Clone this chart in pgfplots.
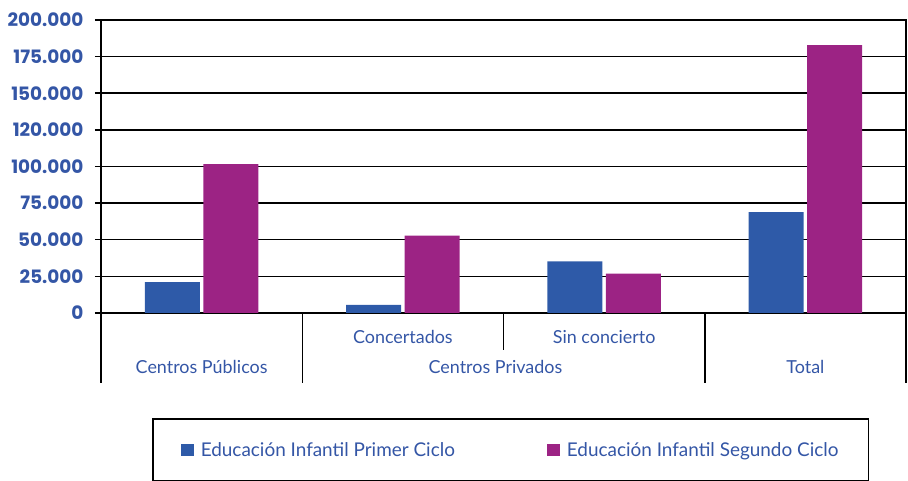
\documentclass[border=0pt]{standalone}
\usepackage{fontspec}
\setmainfont{Lato}
\newfontfamily\tickfont{Poppins}
\usepackage{pgfplots}
\pgfplotsset{compat=1.18}
\definecolor{barblue}{RGB}{46,90,168}
\definecolor{barmag}{RGB}{156,35,132}
\definecolor{txtblue}{RGB}{52,86,166}
\begin{document}
\begin{tikzpicture}
\path[use as bounding box] (0,0) rectangle (908bp,481bp);
\begin{axis}[
  ybar,
  at={(101bp,168bp)}, anchor=south west,
  scale only axis, width=805bp, height=293bp,
  xmin=-0.5, xmax=3.5, ymin=0, ymax=200000,
  xtick=\empty,
  scaled y ticks=false,
  ytick={0,25000,50000,75000,100000,125000,150000,175000,200000},
  yticklabels={0,25.000,50.000,75.000,100.000,120.000,150.000,175.000,200.000},
  yticklabel style={font=\tickfont\bfseries\fontsize{18.5}{18.5}\selectfont, text=txtblue, xshift=-8bp},
  ymajorgrids, grid style={black, line width=1.5bp},
  axis line style={black, line width=1.5bp},
  tick style={black, line width=1.5bp},
  major tick length=6bp,
  ytick pos=left, ytick align=outside,
  legend image code/.code={\fill[#1,draw=none] (0bp,-6bp) rectangle (13bp,6bp);},
  legend columns=2,
  legend style={at={(0.0634,-0.3584)}, anchor=north west, draw=black, line width=1.5bp,
    font=\fontsize{19}{19}\selectfont, text=txtblue, inner xsep=28bp, inner ysep=21.5bp,
    /tikz/every odd column/.append style={column sep=5bp},
    /tikz/every even column/.append style={column sep=90bp}},
]
\addplot[bar width=0.273, bar shift=-0.145, fill=barblue, draw=none]
  coordinates {(0,21150) (1,5600) (2,35200) (3,68800)};
\addplot[bar width=0.273, bar shift=0.145, fill=barmag, draw=none]
  coordinates {(0,101600) (1,52900) (2,26900) (3,182900)};
\legend{Educación Infantil Primer Ciclo, Educación Infantil Segundo Ciclo}
\coordinate (l0) at (axis cs:-0.5,0);
\coordinate (l1) at (axis cs:0.5,0);
\coordinate (l2) at (axis cs:1.5,0);
\coordinate (l3) at (axis cs:2.5,0);
\coordinate (l4) at (axis cs:3.5,0);
\coordinate (c0) at (axis cs:0,0);
\coordinate (c1) at (axis cs:1,0);
\coordinate (c2) at (axis cs:2,0);
\coordinate (c3) at (axis cs:3,0);
\coordinate (cp) at (axis cs:1.46,0);
\end{axis}
\foreach \c in {l0,l1,l3,l4} \draw[black, line width=1.5bp] (\c) -- ++(0,-70bp);
\draw[black, line width=1.5bp] (l2) -- ++(0,-37bp);
\begin{scope}[every node/.style={text=txtblue, font=\fontsize{18}{18}\selectfont}]
\node at ([yshift=-24bp]c1) {Concertados};
\node at ([yshift=-24bp]c2) {Sin concierto};
\node at ([yshift=-54bp]c0) {Centros Públicos};
\node at ([yshift=-54bp]cp) {Centros Privados};
\node at ([yshift=-54bp]c3) {Total};
\end{scope}
\end{tikzpicture}
\end{document}
